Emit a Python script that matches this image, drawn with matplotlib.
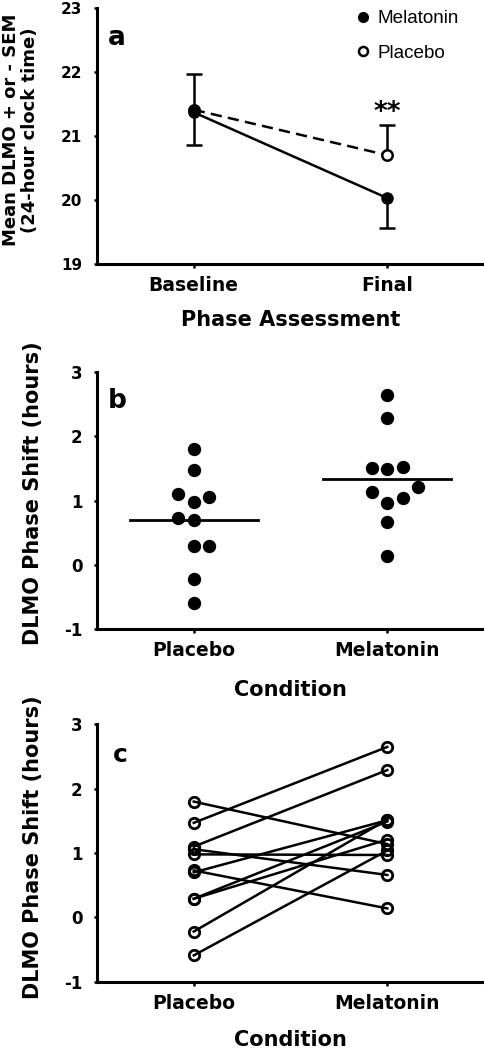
import numpy as np
import matplotlib
matplotlib.use("Agg")
import matplotlib.pyplot as plt
from matplotlib.lines import Line2D

plt.rcParams["axes.unicode_minus"] = False

# ---------------- data ----------------
phases = ["Baseline", "Final"]
mel_mean = [21.37, 20.03]
mel_sem = [0.51, 0.47]      # shown downward (- SEM)
plc_mean = [21.41, 20.70]
plc_sem = [0.56, 0.47]      # shown upward (+ SEM)

conditions = ["Placebo", "Melatonin"]
# paired per participant (placebo -> melatonin)
placebo_shift = [1.80, 1.47, 1.10, 1.06, 0.98, 0.73, 0.70, 0.29, 0.29, -0.22, -0.59]
melatonin_shift = [1.14, 2.65, 2.29, 0.66, 0.97, 0.14, 1.51, 1.49, 1.21, 1.52, 1.04]

# swarm slots (layout only) for panel b
placebo_slot = [0, 0, -1, 1, 0, -1, 0, 0, 1, 0, 0]
melatonin_slot = [-1, 0, 0, 0, 0, 0, -1, 0, 2, 1, 1]

# ---------------- style ----------------
BOLD = dict(family="DejaVu Sans", weight="bold")
LW_SPINE = 2.2
LW = 1.8

fig = plt.figure(figsize=(4.84, 10.5), dpi=100)

def style_axes(ax, ytick_size):
    for s in ("top", "right"):
        ax.spines[s].set_visible(False)
    for s in ("left", "bottom"):
        ax.spines[s].set_linewidth(LW_SPINE)
    ax.tick_params(axis="y", direction="out", length=2.5, width=1.8, pad=8,
                   labelsize=ytick_size)
    ax.tick_params(axis="x", direction="out", length=3, width=1.8, pad=6,
                   labelsize=13.5)
    for lab in ax.get_yticklabels() + ax.get_xticklabels():
        lab.set_fontfamily("DejaVu Sans")
        lab.set_fontweight("bold")

# ---------------- panel a ----------------
axa = fig.add_axes([0.2004, 0.7486, 0.7996, 0.2438])
xa = np.arange(1, len(phases) + 1)

eb_p = axa.errorbar(xa, plc_mean, yerr=[np.zeros(len(plc_sem)), plc_sem],
                    fmt="none", ecolor="black", elinewidth=LW, capsize=6,
                    capthick=LW, zorder=2)
eb_m = axa.errorbar(xa, mel_mean, yerr=[mel_sem, np.zeros(len(mel_sem))],
                    fmt="none", ecolor="black", elinewidth=LW, capsize=6,
                    capthick=LW, zorder=2)
# hide the zero-length caps that sit on the means
for eb, means in ((eb_p, plc_mean), (eb_m, mel_mean)):
    for cl in eb[1]:
        if np.allclose(cl.get_ydata(), means):
            cl.set_visible(False)

axa.plot(xa, plc_mean, ls=(0, (4.5, 2.5)), color="black", lw=LW, zorder=3)
axa.plot(xa, mel_mean, ls="-", color="black", lw=LW, zorder=3)
axa.plot(xa, plc_mean, ls="none", marker="o", ms=7.5, mfc="white",
         mec="black", mew=1.8, zorder=4)
axa.plot(xa, mel_mean, ls="none", marker="o", ms=8, mfc="black",
         mec="black", zorder=5)

axa.set_xlim(0.5, 2.5)
axa.set_ylim(19, 23)
axa.set_yticks([19, 20, 21, 22, 23])
axa.set_xticks(xa)
axa.set_xticklabels(phases)
style_axes(axa, 11)
axa.set_ylabel("Mean DLMO + or - SEM\n(24-hour clock time)", fontsize=13,
               linespacing=1.1, **BOLD)
axa.yaxis.set_label_coords(-0.198, 0.523)
axa.yaxis.label.set_va("center")
axa.set_xlabel("Phase Assessment", fontsize=15, **BOLD)
axa.xaxis.set_label_coords(0.5, -0.219)
axa.xaxis.label.set_va("center")
axa.text(0.028, 0.857, "a", transform=axa.transAxes, fontsize=19,
         va="baseline", ha="left", **BOLD)
axa.text(2, 21.25, "**", fontsize=19, ha="center", va="baseline", **BOLD)

handles = [Line2D([], [], ls="none", marker="o", ms=7, mfc="black", mec="black"),
           Line2D([], [], ls="none", marker="o", ms=6.5, mfc="white",
                  mec="black", mew=1.8)]
axa.legend(handles, ["Melatonin", "Placebo"], loc="upper left",
           bbox_to_anchor=(0.668, 0.992), frameon=False, borderpad=0,
           borderaxespad=0, handlelength=0.8, handletextpad=0.35,
           labelspacing=0.92, prop=dict(family="Liberation Sans", size=13.6))

# ---------------- panel b ----------------
axb = fig.add_axes([0.2004, 0.401, 0.7996, 0.2445])
step = 0.08
for i, (vals, slots) in enumerate(((placebo_shift, placebo_slot),
                                    (melatonin_shift, melatonin_slot))):
    xc = i + 1
    xs = xc + step * np.asarray(slots)
    axb.plot(xs, vals, ls="none", marker="o", ms=8.6, mfc="black",
             mec="black", zorder=3)
    m = np.mean(vals)
    axb.plot([xc - 0.33, xc + 0.33], [m, m], color="black", lw=2.0, zorder=2)

axb.set_xlim(0.5, 2.5)
axb.set_ylim(-1, 3)
axb.set_yticks([-1, 0, 1, 2, 3])
axb.set_xticks([1, 2])
axb.set_xticklabels(conditions)
style_axes(axb, 12)
axb.set_ylabel("DLMO Phase Shift (hours)", fontsize=15, **BOLD)
axb.yaxis.set_label_coords(-0.165, 0.528)
axb.yaxis.label.set_va("center")
axb.set_xlabel("Condition", fontsize=15, **BOLD)
axb.xaxis.set_label_coords(0.5, -0.237)
axb.xaxis.label.set_va("center")
axb.text(0.028, 0.861, "b", transform=axb.transAxes, fontsize=19,
         va="baseline", ha="left", **BOLD)

# ---------------- panel c ----------------
axc = fig.add_axes([0.2004, 0.065, 0.7996, 0.2451])
for p, mv in zip(placebo_shift, melatonin_shift):
    axc.plot([1, 2], [p, mv], color="black", lw=LW, marker="o", ms=7.5,
             mfc="none", mec="black", mew=2.0, zorder=3)

axc.set_xlim(0.5, 2.5)
axc.set_ylim(-1, 3)
axc.set_yticks([-1, 0, 1, 2, 3])
axc.set_xticks([1, 2])
axc.set_xticklabels(conditions)
style_axes(axc, 12)
axc.set_ylabel("DLMO Phase Shift (hours)", fontsize=15, **BOLD)
axc.yaxis.set_label_coords(-0.165, 0.521)
axc.yaxis.label.set_va("center")
axc.set_xlabel("Condition", fontsize=15, **BOLD)
axc.xaxis.set_label_coords(0.5, -0.225)
axc.xaxis.label.set_va("center")
axc.text(0.042, 0.854, "c", transform=axc.transAxes, fontsize=18,
         va="baseline", ha="left", **BOLD)

fig.savefig("out.png", dpi=100)
